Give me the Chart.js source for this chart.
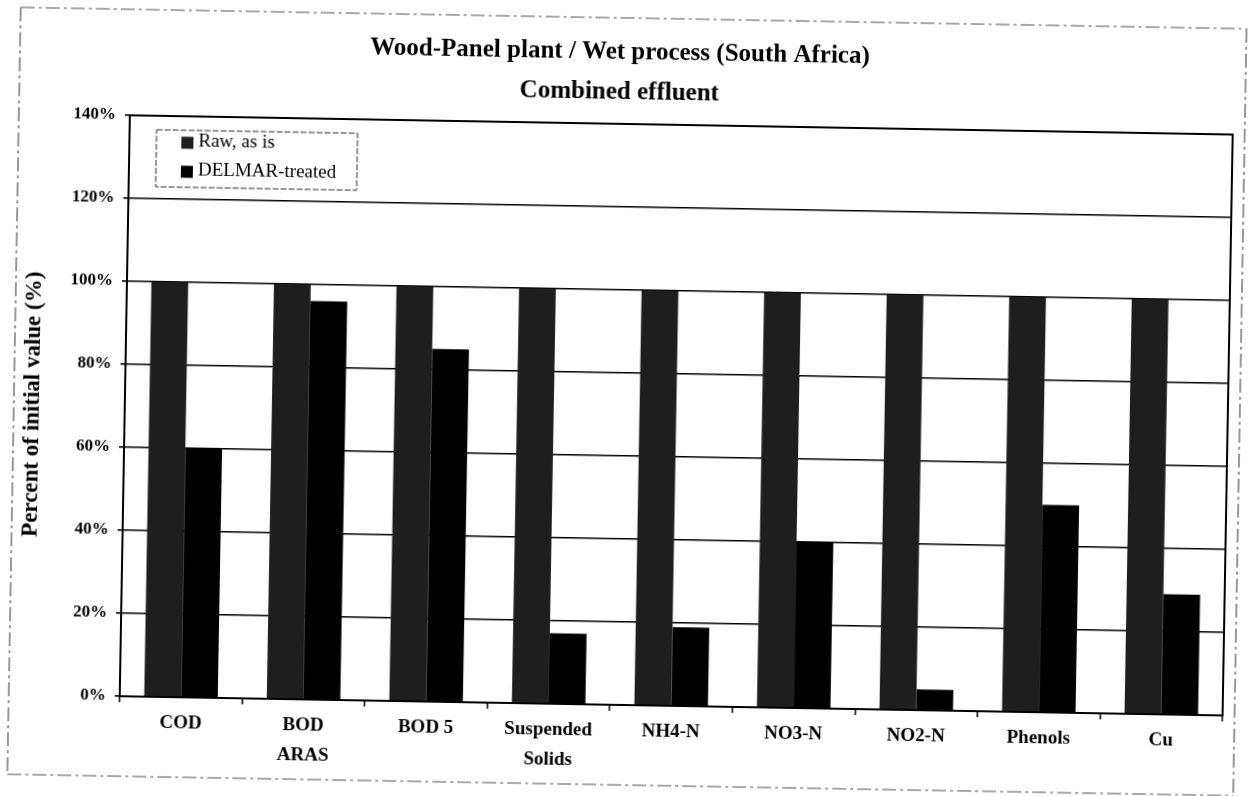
<!DOCTYPE html>
<html><head><meta charset="utf-8">
<script src="https://cdn.jsdelivr.net/npm/chart.js@4.4.1/dist/chart.umd.min.js"></script>
<style>
html,body{margin:0;padding:0;background:#fff;overflow:hidden;}
#wrap{width:1252px;height:796px;transform:rotate(1deg);transform-origin:626px 398px;}
canvas{display:block;}
</style></head><body>
<div id="wrap"><canvas id="c" width="1252" height="796"></canvas></div>
<script>
const categories = [['COD'], ['BOD', 'ARAS'], ['BOD 5'], ['Suspended', 'Solids'], ['NH4-N'], ['NO3-N'], ['NO2-N'], ['Phenols'], ['Cu']];
const seriesNames = ['Raw, as is', 'DELMAR-treated'];
const rawValues = [100, 100, 100, 100, 100, 100, 100, 100, 100];
const treatedValues = [60, 96, 85, 17, 19, 40, 5, 50, 29];
const yTicks = [0, 20, 40, 60, 80, 100, 120, 140];
const titleLines = ['Wood-Panel plant / Wet process (South Africa)', 'Combined effluent'];
const yTitle = 'Percent of initial value (%)';

const SERIF = "'Liberation Serif', 'Times New Roman', serif";

const framePlugin = {
  id: 'frame',
  beforeDraw(chart) {
    const ctx = chart.ctx;
    ctx.save();
    ctx.fillStyle = '#fff';
    ctx.fillRect(0, 0, chart.width, chart.height);
    ctx.strokeStyle = '#555';
    ctx.lineWidth = 1.2;
    ctx.setLineDash([14, 4, 3, 4]);
    ctx.beginPath();
    ctx.moveTo(14, 18); ctx.lineTo(1240, 18);
    ctx.moveTo(14, 18); ctx.lineTo(14, 785);
    ctx.moveTo(14, 785); ctx.lineTo(1240, 785);
    ctx.moveTo(1240, 18); ctx.lineTo(1240, 785);
    ctx.stroke();
    ctx.restore();
  }
};

const borderPlugin = {
  id: 'plotBorder',
  afterDatasetsDraw(chart) {
    const a = chart.chartArea;
    const ctx = chart.ctx;
    ctx.save();
    ctx.strokeStyle = '#000';
    ctx.lineWidth = 2;
    ctx.strokeRect(a.left, a.top, a.right - a.left, a.bottom - a.top);
    ctx.restore();
  }
};

const legendPlugin = {
  id: 'boxLegend',
  afterDraw(chart) {
    const a = chart.chartArea;
    const ctx = chart.ctx;
    const bx = a.left + 27, by = a.top + 14, bw = 201, bh = 57;
    ctx.save();
    ctx.fillStyle = '#fff';
    ctx.fillRect(bx, by, bw, bh);
    ctx.strokeStyle = '#333';
    ctx.lineWidth = 1;
    ctx.setLineDash([6, 2]);
    ctx.strokeRect(bx, by, bw, bh);
    ctx.setLineDash([]);
    ctx.font = "19px " + SERIF;
    ctx.textBaseline = 'middle';
    ctx.textAlign = 'left';
    chart.data.datasets.forEach((ds, i) => {
      const cy = by + 11.5 + i * 29;
      ctx.fillStyle = ds.backgroundColor;
      ctx.fillRect(bx + 25, cy - 5, 12, 12);
      ctx.fillStyle = '#000';
      ctx.fillText(ds.label, bx + 42, cy);
    });
    ctx.restore();
  }
};

new Chart(document.getElementById('c'), {
  type: 'bar',
  data: {
    labels: categories,
    datasets: [
      { label: seriesNames[0], data: rawValues, backgroundColor: '#1e1e1e', borderWidth: 0 },
      { label: seriesNames[1], data: treatedValues, backgroundColor: '#000000', borderWidth: 0 }
    ]
  },
  options: {
    responsive: false,
    animation: false,
    devicePixelRatio: 1,
    categoryPercentage: 0.6,
    barPercentage: 1.0,
    layout: { padding: { left: 0, right: 24, top: 0, bottom: 0 } },
    plugins: {
      legend: { display: false },
      tooltip: { enabled: false },
      title: {
        display: true,
        text: titleLines,
        color: '#000',
        font: { family: SERIF, size: 25, weight: 'bold', lineHeight: 1.6 },
        padding: { top: 33, bottom: 11 }
      }
    },
    scales: {
      x: {
        grid: { drawOnChartArea: false, drawTicks: true, tickLength: 6, color: '#000', lineWidth: 1.5, offset: true },
        border: { display: false },
        ticks: { color: '#000', padding: 5, maxRotation: 0, autoSkip: false,
          font: { family: SERIF, size: 19, weight: 'bold', lineHeight: 1.58 } },
        afterFit(scale) { scale.height = 91; }
      },
      y: {
        min: 0, max: 140,
        afterBuildTicks(scale) { scale.ticks = yTicks.map(v => ({ value: v })); },
        grid: { color: '#000', lineWidth: 1.6, drawTicks: true, tickLength: 5 },
        border: { display: false },
        ticks: { color: '#000', padding: 9, callback: v => v + '%',
          font: { family: SERIF, size: 17, weight: 'bold' } },
        title: { display: true, text: yTitle, color: '#000', padding: { top: 19, bottom: 0 },
          font: { family: SERIF, size: 23, weight: 'bold', lineHeight: 1.2 } },
        afterFit(scale) { scale.width = 125; }
      }
    }
  },
  plugins: [framePlugin, borderPlugin, legendPlugin]
});
</script>
</body></html>
